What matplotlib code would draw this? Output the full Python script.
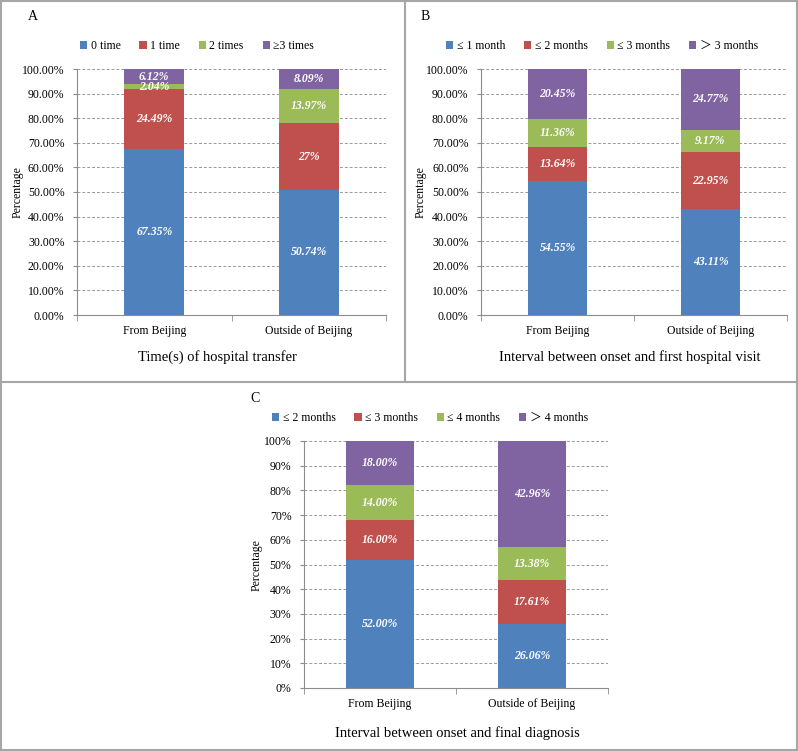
import numpy as np
import matplotlib.pyplot as plt
from matplotlib.patches import Patch
from matplotlib.lines import Line2D
from matplotlib.ticker import FuncFormatter, MultipleLocator

plt.rcParams['font.family'] = ['Liberation Serif', 'Noto Sans CJK SC', 'DejaVu Sans']

groups = ['From Beijing', 'Outside of Beijing']
colors = ['#4F81BD', '#C0504D', '#9BBB59', '#8064A2']

# Panel A - times of hospital transfer
a_labels = ['0 time', '1 time', '2 times', '\u22653 times']
a_beijing = [67.35, 24.49, 2.04, 6.12]
a_outside = [50.74, 27, 13.97, 8.09]

# Panel B - onset to first hospital visit
b_labels = ['\u2264 1 month', '\u2264 2 months', '\u2264 3 months', '\uff1e 3 months']
b_beijing = [54.55, 13.64, 11.36, 20.45]
b_outside = [43.11, 22.95, 9.17, 24.77]

# Panel C - onset to final diagnosis
c_labels = ['\u2264 2 months', '\u2264 3 months', '\u2264 4 months', '\uff1e 4 months']
c_beijing = [52.00, 16.00, 14.00, 18.00]
c_outside = [26.06, 17.61, 13.38, 42.96]

W, H = 798, 751
fig = plt.figure(figsize=(W / 100, H / 100), dpi=100)
fig.patch.set_facecolor('white')

def px_axes(x0, y0, x1, y1):
    # pixel box (top-left origin) -> figure axes
    return fig.add_axes([x0 / W, 1 - y1 / H, (x1 - x0) / W, (y1 - y0) / H])

def panel(ax, letter, labels, s1, s2, xlabel, lab_fmt, tick_fmt, width, leg_xy, letter_xy, xlab_y, ylab_x):
    raw = np.array([s1, s2], dtype=float)
    data = raw / raw.sum(axis=1, keepdims=True) * 100  # 100% stacked
    x = np.arange(len(groups))
    bottom = np.zeros(len(groups))
    for i in range(data.shape[1]):
        ax.bar(x, data[:, i], width, bottom=bottom, color=colors[i], zorder=3)
        for j in range(len(groups)):
            ax.text(x[j], bottom[j] + data[j, i] / 2, lab_fmt(raw[j, i]) + '%',
                    ha='center', va='center', color='white', fontsize=8.5,
                    fontweight='bold', fontstyle='italic', zorder=4)
        bottom += data[:, i]
    ax.set_xlim(-0.5, 1.5)
    ax.set_ylim(0, 100)
    ax.yaxis.set_major_locator(MultipleLocator(10))
    ax.yaxis.set_major_formatter(FuncFormatter(tick_fmt))
    ax.grid(axis='y', linestyle=(0, (3, 2)), color='#9a9a9a', linewidth=0.7, zorder=0)
    for s in ['top', 'right']:
        ax.spines[s].set_visible(False)
    for s in ['left', 'bottom']:
        ax.spines[s].set_color('#8c8c8c')
        ax.spines[s].set_linewidth(0.8)
    ax.set_xticks(x)
    ax.set_xticklabels(groups, fontsize=8.5)
    ax.set_xticks([-0.5, 0.5, 1.5], minor=True)
    ax.tick_params(axis='x', which='major', length=0, pad=7)
    ax.tick_params(axis='x', which='minor', length=4, color='#8c8c8c')
    ax.tick_params(axis='y', length=3, color='#8c8c8c', labelsize=8.5, pad=6)
    handles = [Patch(facecolor=c) for c in colors]
    fig.legend(handles, labels, loc='center', bbox_to_anchor=(leg_xy[0] / W, 1 - leg_xy[1] / H),
               ncol=4, frameon=False, fontsize=8.5, handlelength=0.6, handleheight=0.6,
               handletextpad=0.3, columnspacing=1.6)
    fig.text(letter_xy[0] / W, 1 - letter_xy[1] / H, letter, fontsize=10, ha='left', va='center')
    fig.text(xlab_y[0] / W, 1 - xlab_y[1] / H, xlabel, fontsize=10.5, ha='center', va='center')
    fig.text(ylab_x[0] / W, 1 - ylab_x[1] / H, 'Percentage', fontsize=8.5, rotation=90,
             ha='center', va='center')

pct2 = lambda v, _: f'{v:.2f}%'
pct0 = lambda v, _: f'{v:.0f}%'

axA = px_axes(77, 69, 386, 315)
panel(axA, 'A', a_labels, a_beijing, a_outside, 'Time(s) of hospital transfer',
      lambda v: f'{v:g}', pct2, 0.39, (197, 46), (28, 16), (217, 357), (18, 192))

axB = px_axes(481, 69, 787, 315)
panel(axB, 'B', b_labels, b_beijing, b_outside, 'Interval between onset and first hospital visit',
      lambda v: f'{v:.2f}', pct2, 0.39, (602, 46), (421, 16), (630, 357), (421, 192))

axC = px_axes(304, 441, 608, 688)
panel(axC, 'C', c_labels, c_beijing, c_outside, 'Interval between onset and final diagnosis',
      lambda v: f'{v:.2f}', pct0, 0.45, (430, 418), (250, 399), (457, 733), (257, 565))

# panel borders
bc = '#a6a6a6'
def hline(y, x0, x1):
    fig.add_artist(Line2D([x0 / W, x1 / W], [1 - y / H, 1 - y / H], color=bc, lw=1.5))
def vline(x, y0, y1):
    fig.add_artist(Line2D([x / W, x / W], [1 - y0 / H, 1 - y1 / H], color=bc, lw=1.5))

hline(1, 0, W)
hline(382, 0, W)
hline(749.5, 0, W)
vline(1, 0, H)
vline(797, 0, H)
vline(405, 0, 382)

fig.savefig('out.png', dpi=100)
